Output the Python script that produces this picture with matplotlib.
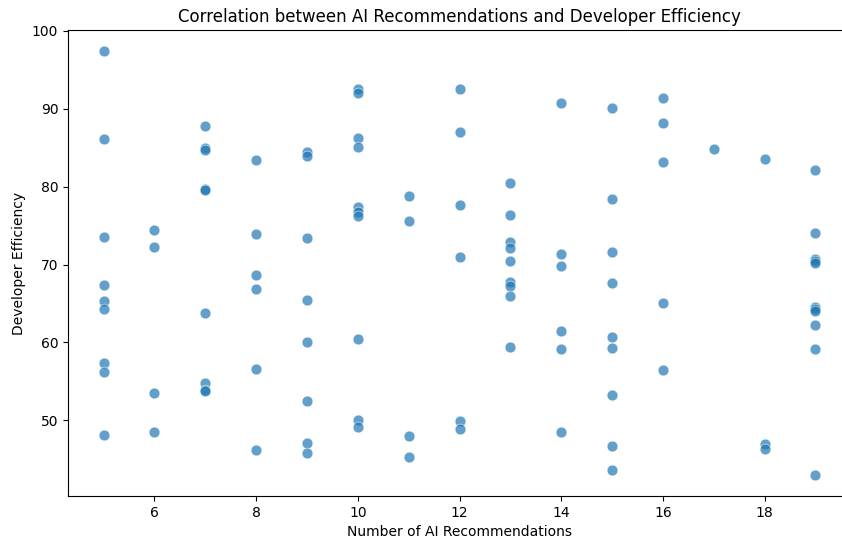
import matplotlib
matplotlib.use("Agg")
import matplotlib.pyplot as plt

recs_5 = [97.4, 86.1, 73.5, 67.4, 65.3, 64.3, 57.4, 56.2, 48.1]
recs_6 = [74.4, 72.2, 53.5, 48.5]
recs_7 = [87.8, 85.0, 84.7, 79.7, 79.6, 63.8, 54.8, 53.9, 53.8]
recs_8 = [83.4, 73.9, 68.7, 66.8, 56.6, 46.2]
recs_9 = [84.5, 83.9, 73.4, 65.5, 60.0, 52.5, 47.1, 45.8]
recs_10 = [92.6, 92.0, 86.2, 85.1, 77.4, 76.7, 76.2, 60.5, 50.0, 49.2]
recs_11 = [78.8, 75.6, 48.0, 45.3]
recs_12 = [92.6, 87.0, 77.7, 71.0, 49.9, 48.9]
recs_13 = [80.5, 76.4, 72.9, 72.1, 70.4, 67.8, 67.3, 66.0, 59.4]
recs_14 = [90.7, 71.4, 69.8, 61.5, 59.1, 48.5]
recs_15 = [90.1, 78.4, 71.6, 67.6, 60.7, 59.3, 53.3, 46.7, 43.6]
recs_16 = [91.4, 88.2, 83.2, 65.1, 56.4]
recs_17 = [84.8]
recs_18 = [83.6, 47.0, 46.3]
recs_19 = [82.2, 74.1, 70.7, 70.5, 70.2, 64.6, 64.3, 64.0, 62.2, 59.2, 43.0]

groups = {5: recs_5, 6: recs_6, 7: recs_7, 8: recs_8, 9: recs_9, 10: recs_10,
          11: recs_11, 12: recs_12, 13: recs_13, 14: recs_14, 15: recs_15,
          16: recs_16, 17: recs_17, 18: recs_18, 19: recs_19}

recommendations = []
efficiency = []
for k, vals in groups.items():
    for v in vals:
        recommendations.append(k)
        efficiency.append(v)

fig = plt.figure(figsize=(8.42, 5.45), dpi=100)
W, H = 842, 545
left, right, top, bottom = 68, 851, 30, 496
ax = fig.add_axes([left / W, 1 - bottom / H, (right - left) / W, (bottom - top) / H])
ax.scatter(recommendations, efficiency, s=60, alpha=0.7, color='#1f77b4',
           edgecolors='white', linewidths=0.5)
ax.set_title("Correlation between AI Recommendations and Developer Efficiency", fontsize=12)
ax.set_xlabel("Number of AI Recommendations", fontsize=10)
ax.set_ylabel("Developer Efficiency", fontsize=10)
ax.set_xticks([6, 8, 10, 12, 14, 16, 18])
ax.set_yticks([50, 60, 70, 80, 90, 100])
fig.savefig("out.png", dpi=100)
